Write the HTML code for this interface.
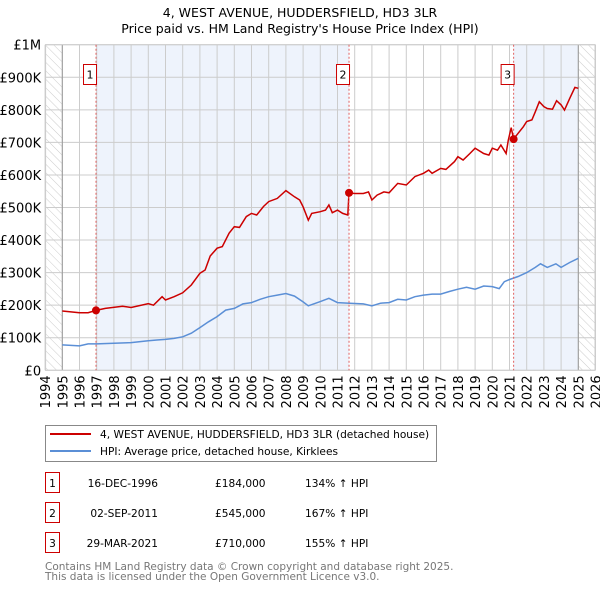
<!DOCTYPE html>
<html><head><meta charset="utf-8"><style>
body{margin:0;background:#fff;}
svg{display:block;font-family:"DejaVu Sans","Liberation Sans",sans-serif;}
</style></head><body>
<svg id="chart" width="600" height="590" viewBox="0 0 600 590" xmlns="http://www.w3.org/2000/svg">
<defs><pattern id="hatch" patternUnits="userSpaceOnUse" width="6" height="6" patternTransform="rotate(-45)"><line x1="0" y1="0" x2="0" y2="6" stroke="#ccc" stroke-width="1"/></pattern></defs>
<text x="300" y="17" text-anchor="middle" font-size="12.5">4, WEST AVENUE, HUDDERSFIELD, HD3 3LR</text>
<text x="300" y="33" text-anchor="middle" font-size="12.5">Price paid vs. HM Land Registry's House Price Index (HPI)</text>
<g id="bg"></g><g id="grid"></g><g id="axes"></g><g id="series"></g><g id="marks"></g>
<g>
<rect x="45.5" y="425.5" width="391" height="36" fill="#fff" stroke="#888"/>
<line x1="50" y1="434" x2="91" y2="434" stroke="#cc0000" stroke-width="2"/>
<text x="100" y="438" font-size="10.6">4, WEST AVENUE, HUDDERSFIELD, HD3 3LR (detached house)</text>
<line x1="50" y1="451" x2="91" y2="451" stroke="#5b8fd6" stroke-width="2"/>
<text x="100" y="455" font-size="10.6">HPI: Average price, detached house, Kirklees</text>
</g>
<g id="table" font-size="10.6"></g>
<text x="45" y="570" font-size="10.5" fill="#777">Contains HM Land Registry data © Crown copyright and database right 2025.</text>
<text x="45" y="580" font-size="10.5" fill="#777">This data is licensed under the Open Government Licence v3.0.</text>
</svg>
<script>
const yTicks=[0,100000,200000,300000,400000,500000,600000,700000,800000,900000,1000000];
const yTickLabels=["£0","£100K","£200K","£300K","£400K","£500K","£600K","£700K","£800K","£900K","£1M"];
const xTicks=[1994,1995,1996,1997,1998,1999,2000,2001,2002,2003,2004,2005,2006,2007,2008,2009,2010,2011,2012,2013,2014,2015,2016,2017,2018,2019,2020,2021,2022,2023,2024,2025,2026];
const redYears=[1995,1996,1996.5,1996.96,1997.5,1998.5,1999,2000,2000.3,2000.8,2001,2001.5,2002,2002.5,2003,2003.3,2003.6,2004,2004.3,2004.7,2005,2005.3,2005.7,2006,2006.3,2006.7,2007,2007.5,2008,2008.5,2008.8,2009,2009.3,2009.5,2010,2010.3,2010.5,2010.7,2011,2011.3,2011.6,2011.67,2012,2012.5,2012.8,2013,2013.3,2013.7,2014,2014.5,2015,2015.5,2016,2016.3,2016.5,2017,2017.3,2017.8,2018,2018.3,2018.7,2019,2019.5,2019.8,2020,2020.3,2020.5,2020.8,2020.93,2021.1,2021.24,2021.5,2021.8,2022,2022.3,2022.5,2022.73,2023,2023.2,2023.5,2023.74,2024,2024.2,2024.5,2024.8,2025];
const redValues=[182000,177000,177000,184000,190000,197000,193000,205000,200000,226000,216000,226000,238000,262000,298000,308000,351000,375000,380000,421000,441000,439000,472000,482000,477000,503000,518000,528000,552000,533000,523000,502000,461000,482000,487000,492000,508000,484000,492000,482000,477000,545000,543000,543000,548000,523000,538000,548000,545000,574000,569000,595000,605000,615000,605000,620000,617000,641000,656000,646000,666000,682000,666000,661000,682000,676000,692000,666000,707000,745000,710000,728000,748000,764000,769000,794000,825000,810000,804000,802000,828000,815000,799000,835000,869000,866000];
const blueYears=[1995,1996,1996.5,1997,1998,1999,2000,2000.5,2001,2001.5,2002,2002.5,2003,2003.5,2004,2004.5,2005,2005.5,2006,2006.5,2007,2007.5,2008,2008.5,2009,2009.3,2010,2010.5,2011,2011.7,2012.5,2013,2013.5,2014,2014.5,2015,2015.5,2016,2016.5,2017,2017.5,2018,2018.5,2019,2019.5,2020,2020.4,2020.7,2021,2021.5,2022,2022.5,2022.8,2023.2,2023.7,2024,2024.5,2025];
const blueValues=[78000,75000,81000,81000,83000,85000,91000,93000,95000,98000,103000,114000,131000,149000,165000,185000,190000,204000,208000,218000,226000,231000,236000,228000,210000,198000,211000,221000,208000,206000,204000,198000,206000,208000,218000,216000,226000,231000,234000,234000,242000,249000,255000,249000,259000,257000,251000,272000,279000,288000,300000,316000,327000,316000,327000,316000,331000,344000];
const saleLabels=["1","2","3"];
const saleYears=[1996.96,2011.67,2021.24];
const saleValues=[184000,545000,710000];
const saleDates=["16-DEC-1996","02-SEP-2011","29-MAR-2021"];
const salePrices=["£184,000","£545,000","£710,000"];
const saleHpi=["134% ↑ HPI","167% ↑ HPI","155% ↑ HPI"];

const NS="http://www.w3.org/2000/svg";
const X0=45.1,X1=595.5,Y0=370.3,Y1=44.7;
const xs=y=>X0+(y-1994)/(2026-1994)*(X1-X0);
const ys=v=>Y0-v/1000000*(Y0-Y1);
function mk(tag,attrs,parent){const e=document.createElementNS(NS,tag);for(const k in attrs)e.setAttribute(k,attrs[k]);document.getElementById(parent).appendChild(e);return e;}

let e=mk('rect',{x:X0,y:Y1,width:X1-X0,height:Y0-Y1,fill:'#fff'},'bg');


e=mk('rect',{x:X0,y:Y1,width:xs(1995)-X0,height:Y0-Y1,fill:'url(#hatch)'},'bg');


e=mk('rect',{x:xs(2025),y:Y1,width:X1-xs(2025),height:Y0-Y1,fill:'url(#hatch)'},'bg');


e=mk('rect',{x:xs(saleYears[0]),y:Y1,width:xs(saleYears[1])-xs(saleYears[0]),height:Y0-Y1,fill:'#eef3fc'},'bg');


e=mk('rect',{x:xs(saleYears[2]),y:Y1,width:xs(2025)-xs(saleYears[2]),height:Y0-Y1,fill:'#eef3fc'},'bg');



yTicks.forEach((v,i)=>{
  const g=mk('line',{x1:X0,x2:X1,y1:ys(v),y2:ys(v),stroke:'#ccc','stroke-width':1},'grid');
  
  
  const t=mk('text',{x:X0-4,y:ys(v)+5,'text-anchor':'end','font-size':13},'axes');
  t.textContent=yTickLabels[i];
  
  
});
xTicks.forEach(yr=>{
  const g=mk('line',{x1:xs(yr),x2:xs(yr),y1:Y1,y2:Y0,stroke:'#ccc','stroke-width':1},'grid');
  
  
  const t=mk('text',{x:0,y:0,'text-anchor':'end','font-size':13,transform:`translate(${xs(yr)+5},${Y0+5}) rotate(-90)`},'axes');
  t.textContent=yr;
  
  
});
e=mk('line',{x1:xs(1995),x2:xs(1995),y1:Y1,y2:Y0,stroke:'#999'},'grid');


e=mk('line',{x1:xs(2025),x2:xs(2025),y1:Y1,y2:Y0,stroke:'#999'},'grid');



saleYears.forEach((yr,i)=>{
  const l=mk('line',{x1:xs(yr),x2:xs(yr),y1:Y1,y2:Y0,stroke:'#e06060','stroke-dasharray':'2,2','stroke-width':1},'marks');
  
  
});

const path=(xa,va)=>xa.map((yr,i)=>(i?'L':'M')+xs(yr).toFixed(1)+','+ys(va[i]).toFixed(1)).join('');
e=mk('path',{d:path(blueYears,blueValues),fill:'none',stroke:'#5b8fd6','stroke-width':1.5},'series');


e=mk('path',{d:path(redYears,redValues),fill:'none',stroke:'#cc0000','stroke-width':1.5},'series');



saleYears.forEach((yr,i)=>{
  const c=mk('circle',{cx:xs(yr),cy:ys(saleValues[i]),r:4,fill:'#cc0000'},'marks');
  
  
  const bx=xs(yr)-7;
  const r=mk('rect',{x:bx-5.5,y:64.5,width:13,height:20,fill:'#fff',stroke:'#cc0000'},'marks');
  
  
  const t=mk('text',{x:bx+1,y:78.5,'text-anchor':'middle','font-size':11},'marks');
  t.textContent=saleLabels[i];
  
  
  const ry=483+i*30;
  const tb=mk('rect',{x:45.5,y:ry-10.5,width:14,height:20,fill:'#fff',stroke:'#cc0000'},'table');
  
  
  const tn=mk('text',{x:52.5,y:ry+4,'text-anchor':'middle'},'table');
  tn.textContent=saleLabels[i];
  
  
  const td=mk('text',{x:158,y:ry+4,'text-anchor':'end'},'table');
  td.textContent=saleDates[i];
  
  
  const tp=mk('text',{x:215,y:ry+4},'table');
  tp.textContent=salePrices[i];
  
  
  const th=mk('text',{x:305,y:ry+4},'table');
  th.textContent=saleHpi[i];
  
  
});
e=mk('rect',{x:X0+0.5,y:Y1,width:X1-X0-1,height:Y0-Y1,fill:'none',stroke:'#ccc'},'grid');


</script>
</body></html>
